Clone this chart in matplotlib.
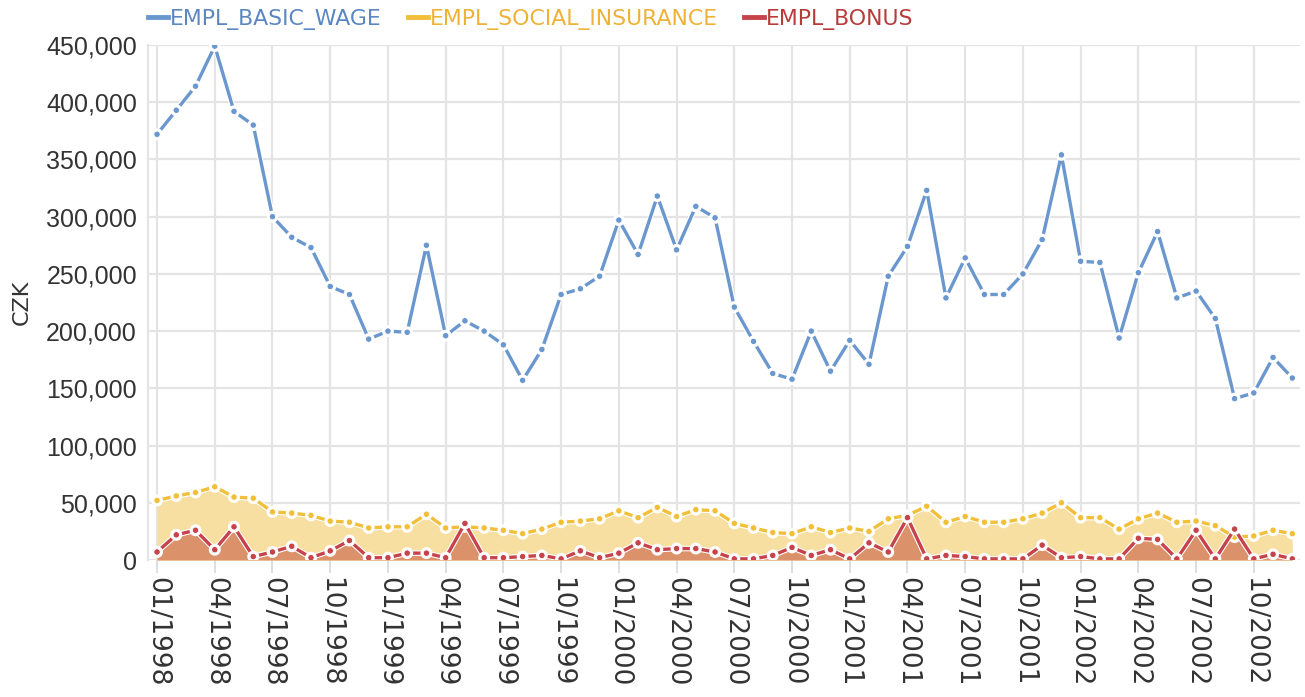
import matplotlib
matplotlib.use("Agg")
import matplotlib.pyplot as plt
import matplotlib.patheffects as pe
from matplotlib.lines import Line2D
from matplotlib import font_manager
from matplotlib.ticker import FuncFormatter

# ---------------- data ----------------
months = [f"{m:02d}/{y}" for y in range(1998, 2003) for m in range(1, 13)]

basic_wage = [372000, 393000, 414000, 449000, 392000, 380000, 300000, 282000, 273000, 239000,
              232000, 193000, 200000, 199000, 275000, 196000, 209000, 200000, 188000, 157000,
              184000, 232000, 237000, 248000, 297000, 267000, 318000, 271000, 309000, 299000,
              221000, 191000, 163000, 158000, 200000, 165000, 192000, 171000, 248000, 274000,
              323000, 229000, 264000, 232000, 232000, 250000, 280000, 354000, 261000, 260000,
              194000, 251000, 287000, 229000, 235000, 211000, 141000, 146000, 177000, 159000]

social_insurance = [52000, 56000, 59000, 64000, 55000, 54000, 42000, 41000, 39000, 34000,
                    33000, 28000, 29000, 29000, 40000, 28000, 29000, 28000, 26000, 23000,
                    27000, 33000, 34000, 36000, 43000, 37000, 46000, 38000, 44000, 43000,
                    32000, 28000, 24000, 23000, 29000, 24000, 28000, 25000, 36000, 39000,
                    47000, 33000, 38000, 33000, 33000, 36000, 41000, 50000, 37000, 37000,
                    27000, 36000, 41000, 33000, 34000, 30000, 20000, 21000, 26000, 23000]

bonus = [7000, 22000, 26000, 9000, 29000, 3000, 7000, 12000, 2000, 8000,
         17000, 2000, 2000, 6000, 6000, 2000, 32000, 2000, 2000, 3000,
         4000, 1000, 8000, 2000, 6000, 15000, 9000, 10000, 10000, 7000,
         1000, 1000, 4000, 11000, 4000, 9000, 1000, 15000, 7000, 37000,
         1000, 4000, 3000, 1000, 1000, 1000, 13000, 2000, 3000, 1000,
         1000, 19000, 18000, 1000, 26000, 1000, 27000, 1000, 5000, 1000]

series_names = ["EMPL_BASIC_WAGE", "EMPL_SOCIAL_INSURANCE", "EMPL_BONUS"]
y_ticks = [0, 50000, 100000, 150000, 200000, 250000, 300000, 350000, 400000, 450000]

# ---------------- style ----------------
avail = {f.name for f in font_manager.fontManager.ttflist}
sans = "Liberation Sans" if "Liberation Sans" in avail else "DejaVu Sans"

blue = "#6b97cf"
yellow = "#f1bf3a"
red = "#c6434b"
yellow_fill = "#f7dfa2"
red_fill = "#db9169"
grid_c = "#e4e4e4"
text_c = "#333333"

fig = plt.figure(figsize=(13.05, 6.97), dpi=100)
W, H = 1305, 697
left, right, top, bottom = 148, 1300, 45, 560
ax = fig.add_axes([left / W, 1 - bottom / H, (right - left) / W, (bottom - top) / H])

x = list(range(len(months)))

ax.fill_between(x, 0, social_insurance, color=yellow_fill, lw=0, zorder=1)
ax.fill_between(x, 0, bonus, color=red_fill, lw=0, zorder=2)

outline = [pe.Stroke(linewidth=4.0, foreground="white"), pe.Normal()]
kw = dict(lw=2.4, marker="o", markersize=4.6, markeredgecolor="white", markeredgewidth=0.6,
          solid_joinstyle="round", path_effects=outline)
ax.plot(x, social_insurance, color=yellow, zorder=4, **kw)
ax.plot(x, bonus, color=red, zorder=5, **kw)
ax.plot(x, basic_wage, color=blue, zorder=6, **kw)

ax.set_xlim(-0.47, 59.4)
ax.set_ylim(0, 450000)

tick_pos = list(range(0, len(months), 3))
ax.set_xticks(tick_pos)
ax.set_xticklabels([months[i] for i in tick_pos], rotation=270, fontsize=19,
                   family="DejaVu Sans", color=text_c)
ax.set_yticks(y_ticks)
ax.yaxis.set_major_formatter(FuncFormatter(lambda v, p: f"{int(v):,}"))
for lab in ax.get_yticklabels():
    lab.set_family(sans)
    lab.set_fontsize(18)
    lab.set_color(text_c)

ax.tick_params(axis="x", length=9, width=1.2, color="#d8d8d8", pad=3)
ax.tick_params(axis="y", length=0, pad=8)

ax.grid(True, color=grid_c, lw=1.6, zorder=0)
ax.set_axisbelow(True)
for s in ["top", "right", "bottom"]:
    ax.spines[s].set_visible(False)
ax.spines["left"].set_color(grid_c)
ax.spines["left"].set_linewidth(1.6)

fig.text(22 / W, 1 - 302 / H, "CZK", rotation=90, ha="center", va="center",
         fontsize=16, family="DejaVu Sans", color=text_c)

handles = [Line2D([], [], color=c, lw=3.5) for c in (blue, yellow, red)]
leg = fig.legend(handles, series_names, loc="center left",
                 bbox_to_anchor=(148 / W, 1 - 19 / H), ncol=3, frameon=False,
                 prop={"family": "DejaVu Sans", "size": 15.8}, handlelength=0.9,
                 handletextpad=0.1, columnspacing=1.2, borderpad=0, borderaxespad=0)
for t, c in zip(leg.get_texts(), ("#5a86c2", "#eeb236", "#b83a3a")):
    t.set_color(c)

fig.savefig("out.png", dpi=100)
